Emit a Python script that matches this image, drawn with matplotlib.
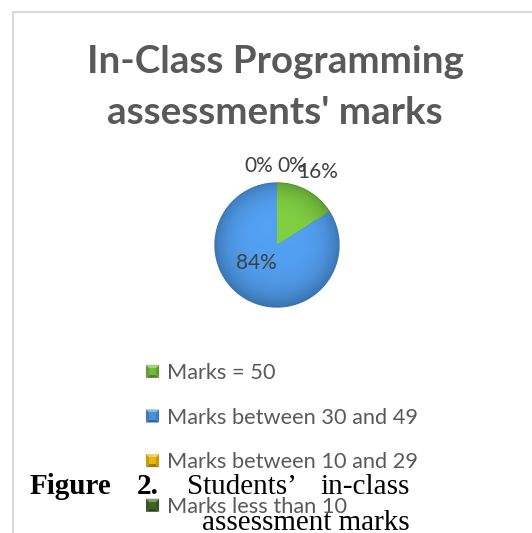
import numpy as np
import matplotlib.pyplot as plt
from matplotlib.lines import Line2D
from matplotlib.patches import Polygon
from matplotlib.colors import to_rgb
from matplotlib.legend_handler import HandlerBase

# Share of students in each mark band
categories = ['Marks = 50', 'Marks between 30 and 49',
              'Marks between 10 and 29', 'Marks less than 10']
shares = [16, 84, 0, 0]
colors = ['#72b83c', '#4a8fd8', '#e8b610', '#3f6424']
edge_colors = ['#4e8a22', '#3a78c0', '#b58c00', '#2c4818']

title_lines = ["In-Class Programming", "assessments' marks"]


def tint(c, f):
    rgb = np.array(to_rgb(c))
    if f >= 1:
        return tuple(rgb + (1 - rgb) * (f - 1))
    return tuple(rgb * f)


class BevelHandler(HandlerBase):
    """Small square legend key with a bevelled look."""

    def create_artists(self, legend, orig_handle, xdescent, ydescent,
                       width, height, fontsize, trans):
        c = orig_handle.get_facecolor()
        s = min(width, height)
        x0, y0 = -xdescent + (width - s) / 2, -ydescent + (height - s) / 2
        x1, y1 = x0 + s, y0 + s
        b = s * 0.22
        xc, yc = (x0 + x1) / 2, (y0 + y1) / 2
        parts = [
            ([(x0, y1), (x1, y1), (xc, yc)], tint(c, 1.35)),
            ([(x0, y0), (x1, y0), (xc, yc)], tint(c, 0.7)),
            ([(x0, y0), (x0, y1), (xc, yc)], tint(c, 0.85)),
            ([(x1, y0), (x1, y1), (xc, yc)], tint(c, 0.85)),
            ([(x0 + b, y0 + b), (x1 - b, y0 + b), (x1 - b, y1 - b), (x0 + b, y1 - b)], tint(c, 1.0)),
        ]
        arts = []
        for pts, col in parts:
            p = Polygon(pts, closed=True, facecolor=col, edgecolor='none', transform=trans)
            arts.append(p)
        return arts


W, H = 532, 533
fig = plt.figure(figsize=(W / 100, H / 100), dpi=100)

# light frame of the chart area (top and left sides only)
fig.add_artist(Line2D([13 / W, 13 / W, 1.0], [0.0, 1 - 12 / H, 1 - 12 / H],
                      color='#d9d9d9', lw=1.5))

for line, base in zip(title_lines, [73, 124]):
    fig.text(275 / W, 1 - base / H, line, ha='center', va='baseline',
             fontsize=27.7, fontweight='bold', family='Lato', color='#595959')

# pie axes: radius 1 -> 62 px, centred at (277, 245)
cx, cy, r = 277, 245, 62
L = 1.6
side = 2 * L * r
ax = fig.add_axes([(cx - side / 2) / W, (H - cy - side / 2) / H, side / W, side / H])
wedges, _ = ax.pie(shares, colors=colors, startangle=90, counterclock=False,
                   wedgeprops=dict(linewidth=1.0))
for w, ec in zip(wedges, edge_colors):
    w.set_edgecolor(ec)

# soft shading on each slice: lighter inside, darker toward the rim
gx, gy = np.meshgrid(np.linspace(-1, 1, 300), np.linspace(1, -1, 300))
rr = np.sqrt(gx ** 2 + gy ** 2)
shade = np.clip(1.12 - 0.28 * rr ** 4 + 0.04 * gy, 0, 1.3)
for w, v, c in zip(wedges, shares, colors):
    if v == 0:
        continue
    rgb = np.clip(np.array(to_rgb(c))[None, None, :] * shade[..., None], 0, 1)
    im = ax.imshow(rgb, extent=(-1, 1, -1, 1), zorder=w.get_zorder() + 0.5,
                   interpolation='bilinear')
    im.set_clip_path(w)
ax.set_xlim(-L, L)
ax.set_ylim(-L, L)
ax.set_aspect('equal')
ax.axis('off')

# percentage labels
zero_shift = [-0.3, 0.24]
nz = 0
for w, v in zip(wedges, shares):
    mid = np.deg2rad((w.theta1 + w.theta2) / 2)
    if v == 0:
        x, y = 1.27 * np.cos(mid) + zero_shift[nz], 1.27 * np.sin(mid)
        nz += 1
    elif v < 50:
        x, y = 1.35 * np.cos(mid), 1.35 * np.sin(mid)
    else:
        x, y = 0.45 * np.cos(mid) - 0.12, 0.45 * np.sin(mid) + 0.1
    ax.text(x, y, f'{v}%', ha='center', va='center', fontsize=15,
            family='Lato', color='#404040', zorder=5)

leg = fig.legend(wedges, categories, loc='upper left',
                 bbox_to_anchor=(146 / W, 1 - 363 / H), frameon=False,
                 prop=dict(family='Lato', size=15.7), labelcolor='#595959',
                 handlelength=0.6, handleheight=0.6, handletextpad=0.35,
                 labelspacing=1.13, borderpad=0, borderaxespad=0,
                 handler_map={type(wedges[0]): BevelHandler()})

# figure caption laid over the chart
cap = dict(fontsize=21, family='Liberation Serif', color='black', va='baseline')
fig.text(30 / W, 1 - 494 / H, 'Figure', ha='left', fontweight='bold', **cap)
fig.text(137 / W, 1 - 494 / H, '2.', ha='left', fontweight='bold', **cap)
fig.text(187 / W, 1 - 494 / H, 'Students\u2019', ha='left', **cap)
fig.text(410 / W, 1 - 494 / H, 'in-class', ha='right', **cap)
fig.text(410 / W, 1 - 530 / H, 'assessment marks', ha='right', **cap)

fig.savefig('out.png', dpi=100)
